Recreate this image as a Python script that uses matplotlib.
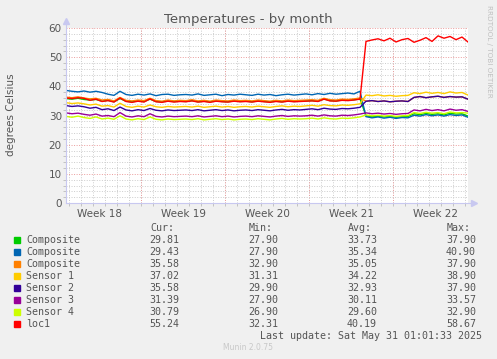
import numpy as np
import matplotlib
matplotlib.use("Agg")
import matplotlib.pyplot as plt

# time axis in days since the left edge of the graph, one sample every 12 h
days = np.arange(68) * 0.5

composite_green = [35.8, 35.6, 35.9, 35.5, 35.3, 35.5, 34.9, 35.2, 34.7, 35.8,
                   34.9, 34.7, 35.0, 34.8, 35.6, 34.8, 34.7, 35.0, 34.8, 34.9,
                   34.8, 35.1, 34.7, 34.9, 34.7, 35.0, 34.8, 34.7, 35.0, 34.8,
                   34.9, 34.7, 35.0, 34.8, 34.7, 34.9, 34.7, 35.0, 34.8, 34.9,
                   35.0, 35.1, 34.9, 35.7, 35.1, 35.0, 35.3, 35.2, 35.4, 35.7,
                   29.9, 29.6, 29.8, 29.5, 29.7, 29.4, 29.6, 29.7, 30.6, 30.3,
                   30.7, 30.4, 30.6, 30.2, 30.8, 30.5, 30.6, 29.8]
composite_blue = [38.6, 38.3, 38.1, 38.4, 38.0, 38.3, 37.9, 37.3, 36.9, 38.3,
                  37.2, 36.9, 37.3, 37.0, 37.4, 36.8, 37.2, 37.3, 36.9, 37.1,
                  37.2, 37.0, 37.4, 36.9, 37.1, 37.3, 36.8, 37.2, 37.0, 37.3,
                  37.1, 36.9, 37.3, 37.0, 37.2, 36.8, 37.1, 37.3, 37.0, 37.2,
                  37.4, 37.1, 37.5, 37.2, 37.6, 37.3, 37.5, 37.7, 37.4, 38.3,
                  29.6, 29.2, 29.5, 29.1, 29.4, 29.0, 29.3, 29.2, 30.1, 29.8,
                  30.3, 29.9, 30.2, 29.8, 30.3, 30.0, 30.2, 29.4]
composite_orange = [36.3, 36.1, 36.4, 36.0, 35.7, 35.9, 35.3, 35.5, 35.0, 36.2,
                    35.2, 35.0, 35.3, 35.1, 35.9, 35.1, 34.9, 35.3, 35.0, 35.2,
                    35.1, 35.4, 35.0, 35.2, 34.9, 35.3, 35.1, 35.0, 35.3, 35.1,
                    35.2, 35.0, 35.3, 35.1, 34.9, 35.2, 35.0, 35.3, 35.1, 35.2,
                    35.3, 35.4, 35.2, 35.9, 35.4, 35.3, 35.6, 35.5, 35.7, 36.0,
                    34.9, 35.1, 34.8, 35.0, 34.7, 34.9, 35.0, 34.8, 36.2, 36.5,
                    36.1, 36.4, 36.6, 36.2, 36.5, 36.3, 36.4, 35.6]
sensor1 = [34.4, 34.1, 34.3, 34.0, 33.6, 33.9, 33.2, 33.4, 32.9, 34.2,
           33.1, 32.8, 33.2, 32.9, 33.6, 33.0, 32.8, 33.1, 32.9, 33.0,
           33.1, 32.9, 33.2, 32.8, 33.0, 33.2, 32.9, 33.1, 32.8, 33.0,
           33.1, 32.9, 33.2, 33.0, 32.8, 33.1, 33.3, 33.0, 33.2, 33.1,
           33.3, 33.5, 33.2, 33.7, 33.4, 33.3, 33.6, 33.5, 33.7, 34.0,
           37.0, 36.8, 37.1, 36.7, 36.9, 36.6, 36.8, 36.9, 37.8, 37.5,
           38.0, 37.6, 37.9, 37.5, 38.1, 37.7, 37.9, 37.0]
sensor2 = [33.4, 33.1, 33.3, 33.0, 32.5, 32.8, 32.0, 32.3, 31.7, 32.9,
           31.9, 31.6, 32.0, 31.7, 32.4, 31.8, 31.6, 31.9, 31.7, 31.8,
           31.9, 31.7, 32.0, 31.6, 31.8, 32.0, 31.7, 31.9, 31.6, 31.8,
           31.9, 31.7, 32.0, 31.8, 31.6, 31.9, 32.1, 31.8, 32.0, 31.9,
           32.1, 32.3, 32.0, 32.5, 32.2, 32.1, 32.4, 32.3, 32.5, 32.8,
           34.9, 35.1, 34.8, 35.0, 34.7, 34.9, 35.0, 34.8, 36.2, 36.5,
           36.1, 36.4, 36.6, 36.2, 36.5, 36.3, 36.4, 35.6]
sensor3 = [30.9, 30.6, 30.8, 30.4, 30.1, 30.5, 29.8, 30.0, 29.6, 31.0,
           29.8, 29.5, 29.9, 29.6, 30.6, 29.7, 29.5, 29.8, 29.6, 29.7,
           29.8, 29.6, 29.9, 29.5, 29.7, 29.9, 29.6, 29.8, 29.5, 29.7,
           29.8, 29.6, 29.9, 29.7, 29.5, 29.8, 30.0, 29.7, 29.9, 29.8,
           29.9, 30.1, 29.8, 30.2, 29.9, 29.8, 30.1, 30.0, 30.2, 30.5,
           30.9, 30.6, 30.8, 30.5, 30.7, 30.4, 30.6, 30.7, 31.9, 31.6,
           32.1, 31.7, 32.0, 31.6, 32.2, 31.8, 32.0, 31.4]
sensor4 = [29.7, 29.4, 29.8, 29.3, 29.0, 29.5, 28.8, 29.1, 28.7, 29.9,
           28.8, 28.5, 28.9, 28.6, 29.5, 28.7, 28.5, 28.8, 28.6, 28.7,
           28.8, 28.6, 28.9, 28.5, 28.7, 28.9, 28.6, 28.8, 28.5, 28.7,
           28.8, 28.6, 28.9, 28.7, 28.5, 28.8, 29.0, 28.7, 28.9, 28.8,
           28.9, 29.1, 28.8, 29.2, 28.9, 28.8, 29.1, 29.0, 29.2, 29.5,
           30.2, 29.9, 30.1, 29.8, 30.0, 29.7, 29.9, 30.0, 31.0, 30.7,
           31.1, 30.8, 31.0, 30.6, 31.2, 30.9, 31.0, 30.8]
loc1 = [36.0, 35.8, 36.1, 35.9, 35.2, 35.6, 34.8, 35.1, 34.6, 36.0,
        34.8, 34.5, 34.9, 34.6, 35.7, 34.7, 34.5, 34.9, 34.6, 34.8,
        34.7, 35.0, 34.6, 34.8, 34.5, 34.9, 34.7, 34.6, 34.9, 34.7,
        34.8, 34.6, 34.9, 34.7, 34.5, 34.8, 34.6, 34.9, 34.7, 34.8,
        34.9, 35.0, 34.8, 35.6, 35.0, 34.9, 35.2, 35.1, 35.3, 35.6,
        55.4, 55.9, 56.3, 55.6, 56.5, 55.2, 56.0, 56.4, 55.1, 55.8,
        56.7, 55.4, 57.3, 56.5, 57.1, 56.0, 56.9, 55.2]

names = ["Composite", "Composite", "Composite", "Sensor 1", "Sensor 2",
         "Sensor 3", "Sensor 4", "loc1"]
colors = ["#00cc00", "#0066b3", "#ff8000", "#ffcc00", "#330099",
          "#990099", "#ccff00", "#ff0000"]
cur = ["29.81", "29.43", "35.58", "37.02", "35.58", "31.39", "30.79", "55.24"]
mins = ["27.90", "27.90", "32.90", "31.31", "29.90", "27.90", "26.90", "32.31"]
avgs = ["33.73", "35.34", "35.05", "34.22", "32.93", "30.11", "29.60", "40.19"]
maxs = ["37.90", "40.90", "37.90", "38.90", "37.90", "33.57", "32.90", "58.67"]

week_labels = ["Week 18", "Week 19", "Week 20", "Week 21", "Week 22"]
week_start = 6.28  # first monday boundary, in days

series = [composite_green, composite_blue, composite_orange, sensor1,
          sensor2, sensor3, sensor4, loc1]

W, H = 497, 359
fig = plt.figure(figsize=(W / 100, H / 100), dpi=100, facecolor="#f0f0f0")
ax = fig.add_axes([66 / W, 156 / H, 402 / W, 175 / H])
ax.set_facecolor("white")

for y, c in zip(series, colors):
    ax.plot(days, y, color=c, lw=1.0)

ax.set_xlim(0, 33.5)
ax.set_ylim(0, 60)

# grid: minor gray dotted, major red dotted
dots = (0, (1, 1.6))
for d in np.arange(week_start - 6, 33.5, 1.0):
    ax.axvline(d, color="#cccccc", lw=0.7, ls=dots, zorder=0)
for d in np.arange(week_start, 33.5, 7.0):
    ax.axvline(d, color="#eb9c9c", lw=0.7, ls=dots, zorder=0)
for v in range(2, 61, 2):
    if v % 10:
        ax.axhline(v, color="#cccccc", lw=0.7, ls=dots, zorder=0)
for v in range(10, 61, 10):
    ax.axhline(v, color="#eb9c9c", lw=0.7, ls=dots, zorder=0)

for s in ax.spines.values():
    s.set_visible(False)
axis_col = "#c8c8f0"
ax.plot([0, 0], [0, 1.04], transform=ax.transAxes, color=axis_col, lw=0.8, clip_on=False)
ax.plot([0, 1.015], [0, 0], transform=ax.transAxes, color=axis_col, lw=0.8, clip_on=False)
ax.plot([0], [1.04], marker="^", ms=4, color=axis_col, transform=ax.transAxes, clip_on=False)
ax.plot([1.015], [0], marker=">", ms=4, color=axis_col, transform=ax.transAxes, clip_on=False)

ax.set_yticks(range(0, 61, 10))
ax.set_yticks(range(0, 61, 2), minor=True)
ax.set_xticks([week_start - 3.5 + 7 * i for i in range(5)])
ax.set_xticks(np.arange(week_start - 6, 33.5, 1.0), minor=True)
ax.set_xticklabels(week_labels)
ax.tick_params(axis="both", which="major", length=0, labelsize=7.5, colors="#555555", pad=3)
ax.tick_params(axis="both", which="minor", length=2, width=0.6, color="#bbbbbb")
ax.tick_params(axis="x", pad=4)

fig.text(248 / W, 1 - 20 / H, "Temperatures - by month", ha="center", va="center",
         fontsize=9.5, color="#555555")
fig.text(11 / W, 1 - 115 / H, "degrees Celsius", ha="center", va="center",
         rotation=90, fontsize=7.5, color="#555555")
fig.text(489 / W, 1 - 5 / H, "RRDTOOL / TOBI OETIKER", ha="center", va="top",
         rotation=270, fontsize=5.2, color="#c0c0c0")

mono = dict(family="DejaVu Sans Mono", fontsize=7.2, color="#555555", va="center")
for x, h in zip([150, 249, 348, 447], ["Cur:", "Min:", "Avg:", "Max:"]):
    fig.text(x / W, 1 - 228 / H, h, ha="left", **mono)
for i in range(len(names)):
    yy = 1 - (240 + 12 * i) / H
    fig.patches.append(plt.Rectangle((14 / W, yy - 3 / H), 6 / W, 6 / H,
                                     transform=fig.transFigure, color=colors[i]))
    fig.text(26 / W, yy, names[i], ha="left", **mono)
    for x, v in zip([179, 278, 377, 476], [cur[i], mins[i], avgs[i], maxs[i]]):
        fig.text(x / W, yy, v, ha="right", **mono)
fig.text(482 / W, 1 - 336 / H, "Last update: Sat May 31 01:01:33 2025", ha="right", **mono)
fig.text(248 / W, 1 - 348 / H, "Munin 2.0.75", ha="center", va="center",
         fontsize=5.5, color="#c8c8c8")

fig.savefig("out.png", dpi=100, facecolor=fig.get_facecolor())
